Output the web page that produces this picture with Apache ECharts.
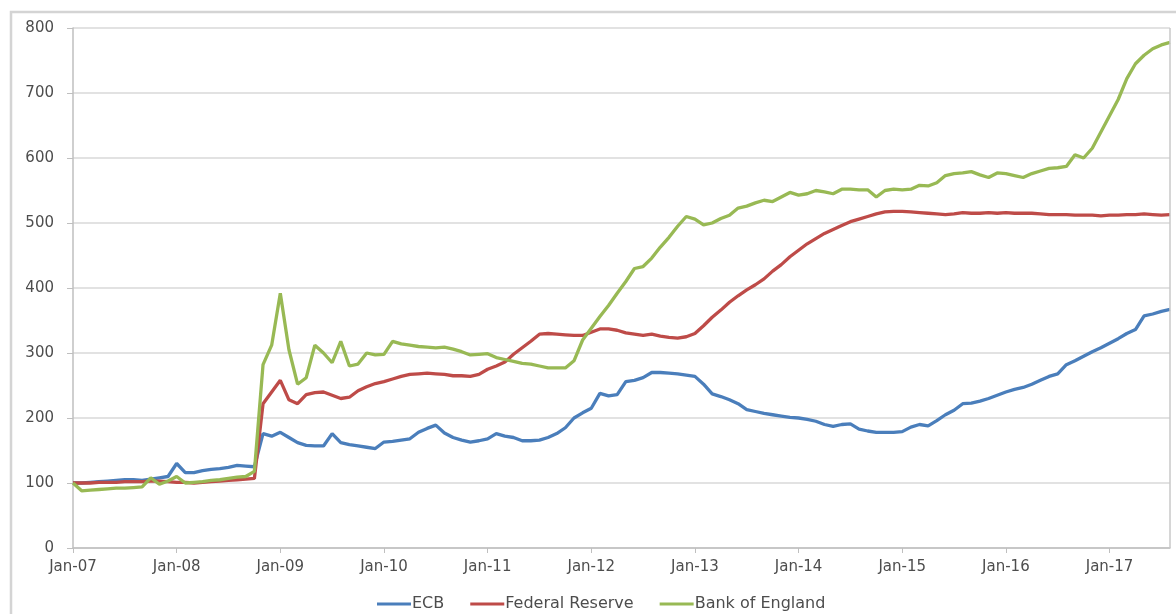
<!DOCTYPE html>
<html>
<head>
<meta charset="utf-8">
<title>Central bank balance sheets</title>
<script src="https://cdn.jsdelivr.net/npm/echarts@6/dist/echarts.min.js"></script>
<style>
  html, body { margin: 0; padding: 0; background: #ffffff; }
  #chart { width: 1176px; height: 614px; }
</style>
</head>
<body>
<div id="chart"></div>
<script>
// Monthly index levels, Jan-2007 = 100, running Jan-07 through Aug-17
const years = ['07', '08', '09', '10', '11', '12', '13', '14', '15', '16', '17'];
const monthNames = ['Jan', 'Feb', 'Mar', 'Apr', 'May', 'Jun', 'Jul', 'Aug', 'Sep', 'Oct', 'Nov', 'Dec'];
const lastYearMonths = 8;

const ecb = [
  100, 100, 101, 102, 103, 104, 105, 105, 104, 106, 108, 110,
  130, 116, 116, 119, 121, 122, 124, 127, 126, 125, 176, 172,
  178, 170, 162, 158, 157, 157, 176, 162, 159, 157, 155, 153,
  163, 164, 166, 168, 178, 184, 189, 177, 170, 166, 163, 165,
  168, 176, 172, 170, 165, 165, 166, 170, 176, 185, 200, 208,
  215, 238, 234, 236, 256, 258, 262, 270, 270, 269, 268, 266,
  264, 252, 237, 233, 228, 222, 213, 210, 207, 205, 203, 201,
  200, 198, 195, 190, 187, 190, 191, 183, 180, 178, 178, 178,
  179, 186, 190, 188, 196, 205, 212, 222, 223, 226, 230, 235,
  240, 244, 247, 252, 258, 264, 268, 282, 288, 295, 302, 308,
  315, 322, 330, 336, 357, 360, 364, 367
];

const fed = [
  100, 100, 100, 101, 101, 101, 102, 102, 102, 103, 103, 102,
  101, 101, 100, 101, 102, 103, 104, 105, 106, 107, 222, 240,
  258, 228, 222, 236, 239, 240, 235, 230, 232, 242, 248, 253,
  256, 260, 264, 267, 268, 269, 268, 267, 265, 265, 264, 267,
  275, 280, 286, 298, 308, 318, 329, 330, 329, 328, 327, 327,
  332, 337, 337, 335, 331, 329, 327, 329, 326, 324, 323, 325,
  330, 342, 355, 366, 378, 388, 397, 405, 414, 426, 436, 448,
  458, 468, 476, 484, 490, 496, 502, 506, 510, 514, 517, 518,
  518, 517, 516, 515, 514, 513, 514, 516, 515, 515, 516, 515,
  516, 515, 515, 515, 514, 513, 513, 513, 512, 512, 512, 511,
  512, 512, 513, 513, 514, 513, 512, 513
];

const boe = [
  100, 88, 89, 90, 91, 92, 92, 93, 94, 108, 98, 103,
  110, 100, 101, 102, 104, 105, 107, 109, 110, 118, 282, 312,
  392, 305, 252, 262, 312, 300, 285, 318, 280, 283, 300, 297,
  298, 318, 314, 312, 310, 309, 308, 309, 306, 302, 297, 298,
  299, 293, 290, 287, 284, 283, 280, 277, 277, 277, 288, 320,
  338, 356, 373, 392, 410, 430, 433, 446, 463, 478, 495, 510,
  506, 497, 500, 507, 512, 523, 526, 531, 535, 533, 540, 547,
  543, 545, 550, 548, 545, 552, 552, 551, 551, 540, 550, 552,
  551, 552, 558, 557, 562, 573, 576, 577, 579, 574, 570, 577,
  576, 573, 570, 576, 580, 584, 585, 587, 605, 600, 615, 640,
  665, 690, 722, 745, 758, 768, 774, 778
];

const seriesNames = ['ECB', 'Federal Reserve', 'Bank of England'];
const seriesColors = ['#4a7ebb', '#be4b48', '#98b954'];

// Month labels such as "Jan-07"
const categories = [];
years.forEach(function (y, i) {
  const n = i === years.length - 1 ? lastYearMonths : 12;
  for (let m = 0; m < n; m++) categories.push(monthNames[m] + '-' + y);
});

const textColor = '#4d4d4d';
const fontFamily = 'DejaVu Sans, sans-serif';

const chart = echarts.init(document.getElementById('chart'), null, { renderer: 'canvas' });

chart.setOption({
  animation: false,
  backgroundColor: '#ffffff',
  graphic: [
    {
      // chart-area frame (left and top edges fall inside the canvas)
      type: 'polyline',
      shape: { points: [[11, 614], [11, 12], [1176, 12]] },
      style: { stroke: '#d4d4d4', lineWidth: 2.5, fill: null },
      silent: true,
      z: 100
    },
    {
      // right edge of the plot area
      type: 'line',
      shape: { x1: 1170, y1: 28, x2: 1170, y2: 548 },
      style: { stroke: '#c8c8c8', lineWidth: 1.5 },
      silent: true,
      z: 100
    }
  ],
  grid: {
    left: 73, right: 6, top: 28, bottom: 66
  },
  legend: {
    top: 591, left: 372,
    icon: 'rect', itemWidth: 34, itemHeight: 3, itemGap: 26,
    textStyle: { color: textColor, fontSize: 16, fontFamily: fontFamily, padding: [0, 0, 0, -4] },
    data: seriesNames
  },
  xAxis: {
    type: 'category',
    data: categories,
    boundaryGap: false,
    axisLine: { lineStyle: { color: '#bfbfbf', width: 1.5 } },
    axisTick: { interval: 11, length: 5, lineStyle: { color: '#bfbfbf' } },
    axisLabel: { interval: 11, margin: 12, color: textColor, fontSize: 15, fontFamily: fontFamily },
    splitLine: { show: false }
  },
  yAxis: {
    type: 'value',
    min: 0, max: 800, interval: 100,
    axisLine: { show: true, lineStyle: { color: '#bfbfbf', width: 1.5 } },
    axisTick: { show: true, length: 6, lineStyle: { color: '#bfbfbf' } },
    axisLabel: { margin: 19, color: textColor, fontSize: 15, fontFamily: fontFamily },
    splitLine: { lineStyle: { color: '#d9d9d9', width: 1.5 } }
  },
  series: [ecb, fed, boe].map(function (d, i) {
    return {
      name: seriesNames[i],
      type: 'line',
      data: d,
      showSymbol: false,
      color: seriesColors[i],
      lineStyle: { width: 3.3, color: seriesColors[i] }
    };
  })
});
</script>
</body>
</html>
